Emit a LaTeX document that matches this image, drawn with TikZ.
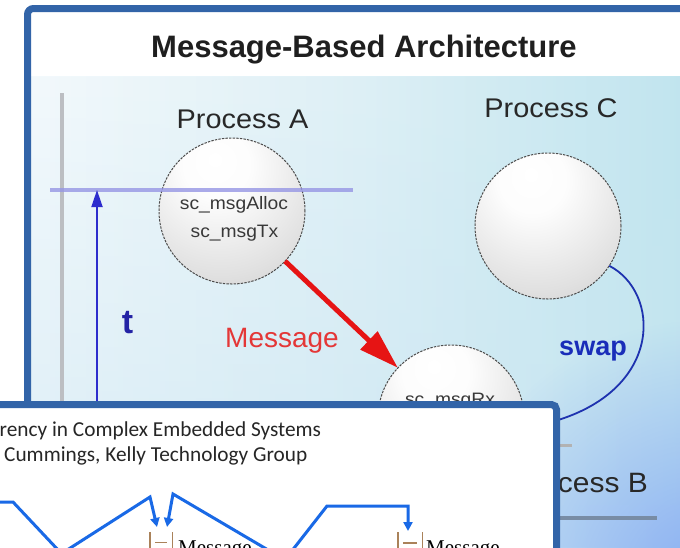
\documentclass[tikz,border=0pt]{standalone}
\usepackage{fontspec}
\setmainfont{Liberation Sans}
\newfontfamily\labelsans[FakeStretch=1.07]{Liberation Sans}
\newfontfamily\calibrifont{Carlito}
\newfontfamily\seriffont{Liberation Serif}
\usetikzlibrary{arrows.meta,fadings,shadings}

\definecolor{framecol}{RGB}{50,100,168}
\definecolor{bgleft}{RGB}{243,249,252}
\definecolor{bgmid}{RGB}{222,240,246}
\definecolor{bgright}{RGB}{192,229,238}
\definecolor{bgsoft}{RGB}{200,228,242}
\definecolor{bgblue}{RGB}{105,145,245}
\definecolor{timeblue}{RGB}{45,45,205}
\definecolor{tcol}{RGB}{35,35,165}
\definecolor{msgred}{RGB}{230,20,20}
\definecolor{msgtext}{RGB}{228,55,55}
\definecolor{swapcol}{RGB}{30,50,175}
\definecolor{swaptext}{RGB}{25,45,185}
\definecolor{lavender}{RGB}{150,150,228}
\definecolor{axisgray}{RGB}{188,190,194}
\definecolor{slate}{RGB}{120,140,165}
\definecolor{flowblue}{RGB}{25,105,230}
\definecolor{iconbrown}{RGB}{170,130,90}
\definecolor{labelgray}{RGB}{40,40,40}

% soft grey ball, lit from above, slightly left of centre
\pgfdeclareradialshading{spheregray}{\pgfpoint{-6bp}{18bp}}{%
  color(0bp)=(white); color(12bp)=(white!99!black); color(34bp)=(white!88!black);
  color(55bp)=(white!75!black); color(70bp)=(white!64!black); color(100bp)=(white!58!black)}

\tikzfading[name=cornerglow, inner color=transparent!35, outer color=transparent!100]
\tikzfading[name=risebottom, top color=transparent!100, bottom color=transparent!45]

\tikzset{
  sphere/.style={circle, minimum size=146pt, inner sep=0pt, outer sep=0pt,
    shade, shading=spheregray, draw=black!70, line width=1pt,
    dash pattern=on 2.4pt off 1.2pt},
  titlestyle/.style={font=\bfseries\fontsize{31}{36}\selectfont, text=black!88,
    inner sep=0pt, anchor=base},
  proclabel/.style={font=\labelsans\fontsize{27}{30}\selectfont, text=labelgray,
    inner sep=0pt, anchor=base},
  calltext/.style={font=\labelsans\fontsize{18}{20}\selectfont, text=black!78,
    inner sep=0pt, anchor=base},
  msgarrow/.style={draw=msgred, line width=5pt, -{Triangle[length=40pt,width=24pt]}},
  msglabel/.style={font=\fontsize{28}{30}\selectfont, text=msgtext, inner sep=0pt, anchor=base},
  swaparrow/.style={draw=swapcol, line width=1.8pt, -{Triangle[length=12pt,width=10pt]}},
  swaplabel/.style={font=\bfseries\fontsize{27}{30}\selectfont, text=swaptext,
    inner sep=0pt, anchor=base},
  timearrow/.style={draw=timeblue, line width=1.8pt, -{Triangle[length=17pt,width=11pt]}},
  tlabel/.style={font=\bfseries\fontsize{34}{36}\selectfont, text=tcol, inner sep=0pt, anchor=base},
  frame/.style={draw=framecol, line width=7pt},
  insettext/.style={font=\calibrifont\fontsize{21.3}{24}\selectfont, text=black!85,
    inner sep=0pt, anchor=base west},
  flow/.style={draw=flowblue, line width=3pt, line join=miter},
  flowarrow/.style={flow, -{Triangle[length=9pt,width=9pt]}},
  queueicon/.style={draw=iconbrown, line width=1.6pt},
  serifmsg/.style={font=\seriffont\fontsize{21}{24}\selectfont, text=black,
    inner sep=0pt, anchor=base west},
}

\begin{document}
\begin{tikzpicture}[x=1pt,y=-1pt]
\useasboundingbox (0,0) rectangle (680,547);
\clip (0,0) rectangle (680,547);
\fill[white] (0,0) rectangle (680,547);

% ---- slide panel background ----
\fill[white, rounded corners=6pt] (27.5,8.5) rectangle (720,600);
\begin{scope}
  \clip (31,76) rectangle (690,600);
  \shade[left color=bgleft, right color=bgright, middle color=bgmid] (31,76) rectangle (690,547);
  \fill[bgsoft, path fading=risebottom] (31,76) rectangle (690,547);
  \fill[bgblue, path fading=cornerglow] (705,580) circle (260);
\end{scope}

% time axis and level lines
\draw[axisgray, line width=4.5pt] (62,93) -- (62,560);
\draw[black!30, line width=3pt] (530,445) -- (572,445);
\draw[slate, line width=4pt] (520,518) -- (657,518);

% ---- titles ----
\node[titlestyle] (title) at (364,57) {Message-Based Architecture};
\node[proclabel] (procA) at (242.5,128) {Process A};
\node[proclabel] (procC) at (551,117) {Process C};
\node[proclabel, font=\labelsans\fontsize{28}{30}\selectfont, anchor=base east] (procB) at (648,492) {Process B};

% ---- processes ----
\node[sphere] (A) at (232,211) {};
\node[sphere] (C) at (548,226) {};
\node[sphere] (B) at (451,418) {};
\node[calltext] (alloc) at (234,209) {sc\_msgAlloc};
\node[calltext] (tx) at (234.5,237) {sc\_msgTx};
\node[calltext] (rx) at (450,405) {sc\_msgRx};

% current time marker
\draw[lavender, opacity=0.8, line width=3.5pt] (50,190) -- (353,190);

% time arrow
\coordinate (tfoot) at (97,560);
\coordinate (ttop) at (97,190);
\draw[timearrow] (tfoot) -- (ttop);
\node[tlabel] (tL) at (127.5,333) {t};

% message from A to B
\draw[msgarrow] (A) -- (B);
\node[msglabel] (msgL) at (282,347) {Message};

% swap from C to B
\coordinate (swapEnd) at (545,424);
\draw[swaparrow] (C.-33) .. controls (660,292) and (664,388) .. (swapEnd);
\node[swaplabel] (swapL) at (593,355) {swap};

% panel frame
\draw[frame, rounded corners=6pt] (27.5,8.5) rectangle (720,600);

% ---- overlaid paper excerpt ----
\filldraw[fill=white, frame, rounded corners=5pt] (-40,404.5) rectangle (556.5,620);
\node[insettext] (ref1) at (-0.5,436) {rency in Complex Embedded Systems};
\node[insettext] (ref2) at (4,461) {Cummings, Kelly Technology Group};

\coordinate (f1a) at (-10,502);
\coordinate (f1b) at (13,502);
\coordinate (f1c) at (60,552);
\draw[flow] (f1a) -- (f1b) -- (f1c);

\coordinate (f2a) at (64,552);
\coordinate (f2b) at (150,497);
\coordinate (q1l) at (157,527);
\draw[flowarrow] (f2a) -- (f2b) -- (q1l);

\coordinate (f3a) at (271.5,552);
\coordinate (f3b) at (173,494);
\coordinate (q1r) at (167,527);
\draw[flowarrow] (f3a) -- (f3b) -- (q1r);

\coordinate (f4a) at (291,552);
\coordinate (f4b) at (327,506);
\coordinate (f4c) at (408,506);
\coordinate (q2top) at (408,531);
\draw[flowarrow] (f4a) -- (f4b) -- (f4c) -- (q2top);

% message queue glyphs
\draw[queueicon] (150,532) -- (150,556) (172.5,532) -- (172.5,556) (155,542.5) -- (167,542.5);
\draw[queueicon] (398,532) -- (398,556) (422.5,532) -- (422.5,556) (403,543) -- (417,543);
\node[serifmsg] (m1) at (178,554) {Message};
\node[serifmsg] (m2) at (426,554) {Message};
\end{tikzpicture}
\end{document}
